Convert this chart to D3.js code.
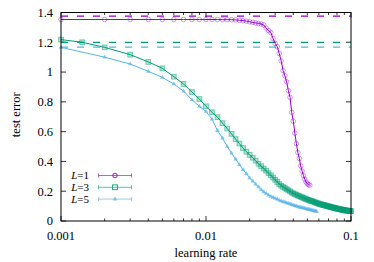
<!DOCTYPE html>
<html>
<head>
<meta charset="utf-8">
<script src="https://cdn.jsdelivr.net/npm/d3@7"></script>
<style>
body { margin: 0; background: #fff; }
text { font-family: "Liberation Serif", "DejaVu Serif", serif; }
</style>
</head>
<body>
<div id="chart-area"></div>
<script>
// learning rates and test errors
var lrL1 = [0.001,0.002,0.003,0.004,0.005,0.006,0.007,0.008,0.009,0.010,0.011,0.012,0.013,0.014,0.015,0.016,0.017,0.018,0.019,0.020,
  0.021,0.022,0.023,0.024,0.025,0.026,0.027,0.028,0.029,0.030,0.031,0.032,0.033,0.034,0.035,0.036,0.037,0.038,0.039,0.040,
  0.041,0.042,0.043,0.044,0.045,0.046,0.047,0.048,0.049,0.050,0.051,0.052];
var errL1 = [1.353,1.353,1.353,1.353,1.353,1.353,1.353,1.353,1.353,1.353,1.353,1.353,1.352,1.352,1.352,1.350,1.348,1.345,1.342,1.338,
  1.334,1.330,1.327,1.323,1.316,1.295,1.278,1.265,1.225,1.192,1.170,1.125,1.075,1.010,0.975,0.935,0.875,0.830,0.730,0.670,
  0.590,0.520,0.460,0.420,0.370,0.335,0.305,0.280,0.262,0.250,0.244,0.240];

var lrL3 = [0.001,0.0014,0.002,0.003,0.004,0.005,0.006,0.007,0.008,0.009,0.010,0.011,0.012,0.013,0.014,0.015,0.016,0.017,0.018,0.019,0.020,
  0.021,0.022,0.023,0.024,0.025,0.026,0.027,0.028,0.029,0.030,0.031,0.032,0.033,0.034,0.035,0.036,0.037,0.038,0.039,0.040,
  0.041,0.042,0.043,0.044,0.045,0.046,0.047,0.048,0.049,0.050,0.051,0.052,0.053,0.054,0.055,0.056,0.057,0.058,0.059,0.060,
  0.061,0.062,0.063,0.064,0.065,0.066,0.067,0.068,0.069,0.070,0.071,0.072,0.073,0.074,0.075,0.076,0.077,0.078,0.079,0.080,
  0.081,0.082,0.083,0.084,0.085,0.086,0.087,0.088,0.089,0.090,0.091,0.092,0.093,0.094,0.095,0.096,0.097,0.098,0.099,0.100];
var errL3 = [1.218,1.200,1.166,1.117,1.068,1.025,0.969,0.920,0.866,0.819,0.770,0.730,0.697,0.657,0.621,0.585,0.550,0.520,0.490,0.465,0.444,
  0.425,0.405,0.384,0.368,0.352,0.338,0.321,0.307,0.292,0.277,0.262,0.248,0.237,0.229,0.221,0.214,0.206,0.199,0.192,0.185,
  0.180,0.176,0.171,0.167,0.163,0.159,0.155,0.151,0.147,0.144,0.141,0.138,0.135,0.133,0.130,0.127,0.124,0.121,0.119,0.116,
  0.114,0.112,0.110,0.108,0.107,0.105,0.103,0.102,0.100,0.098,0.097,0.095,0.093,0.092,0.090,0.089,0.087,0.086,0.085,0.084,
  0.082,0.081,0.080,0.079,0.078,0.077,0.075,0.074,0.073,0.073,0.072,0.071,0.070,0.070,0.069,0.068,0.068,0.067,0.067,0.066];

var lrL5 = [0.001,0.002,0.003,0.004,0.005,0.006,0.007,0.008,0.009,0.010,0.011,0.012,0.013,0.014,0.015,0.016,0.017,0.018,0.019,0.020,
  0.021,0.022,0.023,0.024,0.025,0.026,0.027,0.028,0.029,0.030,0.031,0.032,0.033,0.034,0.035,0.036,0.037,0.038,0.039,0.040,
  0.041,0.042,0.043,0.044,0.045,0.046,0.047,0.048,0.049,0.050,0.051,0.052,0.053,0.054,0.055,0.056,0.057,0.058];
var errL5 = [1.166,1.100,1.054,1.005,0.964,0.920,0.872,0.814,0.770,0.735,0.684,0.607,0.556,0.500,0.455,0.415,0.378,0.345,0.318,0.290,
  0.268,0.248,0.228,0.210,0.195,0.185,0.174,0.165,0.158,0.152,0.146,0.139,0.134,0.130,0.126,0.122,0.118,0.114,0.110,0.106,
  0.103,0.100,0.097,0.093,0.091,0.089,0.087,0.085,0.082,0.080,0.078,0.076,0.074,0.072,0.070,0.068,0.066,0.065];

// dashed reference levels
var refLevels = [1.375, 1.200, 1.168];
var seriesNames = ["1", "3", "5"];
var colors = ["#9400d3", "#009e73", "#56b4e9"];
var yTicks = [0, 0.2, 0.4, 0.6, 0.8, 1, 1.2, 1.4];
var xTicks = [0.001, 0.01, 0.1];

var margin = {top: 12.5, right: 23, bottom: 41, left: 61};
var width = 374 - margin.left - margin.right;
var height = 262 - margin.top - margin.bottom;

var svg = d3.select("#chart-area").append("svg")
  .attr("width", 374)
  .attr("height", 262);
var g = svg.append("g")
  .attr("transform", "translate(" + margin.left + "," + margin.top + ")");

var x = d3.scaleLog().domain([0.001, 0.1]).range([0, width]);
var y = d3.scaleLinear().domain([0, 1.4]).range([height, 0]);

// minor ticks for the log axis
var minor = [];
[0.001, 0.01].forEach(function(d) {
  for (var k = 2; k <= 9; k++) minor.push(d * k);
});

// ticks, drawn inward on all four sides
var ticks = g.append("g").attr("stroke", "#000").attr("stroke-width", 0.8);
yTicks.forEach(function(v) {
  ticks.append("line").attr("x1", 0).attr("x2", 5).attr("y1", y(v)).attr("y2", y(v));
  ticks.append("line").attr("x1", width).attr("x2", width - 5).attr("y1", y(v)).attr("y2", y(v));
});
xTicks.forEach(function(v) {
  ticks.append("line").attr("x1", x(v)).attr("x2", x(v)).attr("y1", height).attr("y2", height - 5);
  ticks.append("line").attr("x1", x(v)).attr("x2", x(v)).attr("y1", 0).attr("y2", 5);
});
minor.forEach(function(v) {
  ticks.append("line").attr("x1", x(v)).attr("x2", x(v)).attr("y1", height).attr("y2", height - 2.5);
  ticks.append("line").attr("x1", x(v)).attr("x2", x(v)).attr("y1", 0).attr("y2", 2.5);
});

var fs = "12.5px";
g.selectAll(".ylab").data(yTicks).enter().append("text")
  .attr("x", -8)
  .attr("y", function(d) { return y(d); })
  .attr("dy", "0.35em")
  .attr("text-anchor", "end")
  .attr("font-size", fs)
  .text(function(d) { return d3.format("~g")(d); });
g.selectAll(".xlab").data(xTicks).enter().append("text")
  .attr("x", function(d) { return x(d); })
  .attr("y", height + 19)
  .attr("text-anchor", "middle")
  .attr("font-size", fs)
  .text(function(d) { return d; });

// axis labels
g.append("text")
  .attr("x", width / 2)
  .attr("y", height + 36)
  .attr("text-anchor", "middle")
  .attr("font-size", fs)
  .text("learning rate");
g.append("text")
  .attr("transform", "rotate(-90)")
  .attr("x", -(height / 2) + 2)
  .attr("y", -41)
  .attr("text-anchor", "middle")
  .attr("font-size", fs)
  .text("test error");

// dashed levels
g.selectAll(".ref").data(refLevels).enter().append("line")
  .attr("x1", 0).attr("x2", width)
  .attr("y1", function(d) { return y(d); })
  .attr("y2", function(d) { return y(d); })
  .attr("stroke", function(d, i) { return colors[i]; })
  .attr("stroke-width", 1.2)
  .attr("stroke-dasharray", "7,9");

var series = [
  {lr: lrL1, err: errL1},
  {lr: lrL3, err: errL3},
  {lr: lrL5, err: errL5}
];

var line = d3.line()
  .x(function(d) { return x(d[0]); })
  .y(function(d) { return y(d[1]); });

function marker(sel, i, cx, cy, legend) {
  if (i == 0) {
    sel.append("circle").attr("cx", cx).attr("cy", cy).attr("r", 2.3)
      .attr("fill", "none").attr("stroke", colors[i]).attr("stroke-width", 0.9)
      .attr("stroke-opacity", legend ? 1 : 0.45);
  } else if (i == 1) {
    sel.append("rect").attr("x", cx - 2.4).attr("y", cy - 2.4).attr("width", 4.8).attr("height", 4.8)
      .attr("fill", legend ? "none" : colors[i]).attr("fill-opacity", 0.3)
      .attr("stroke", colors[i]).attr("stroke-width", 0.9)
      .attr("stroke-opacity", legend ? 1 : 0.5);
  } else {
    sel.append("path")
      .attr("d", d3.symbol().type(d3.symbolTriangle).size(9)())
      .attr("transform", "translate(" + cx + "," + cy + ")")
      .attr("fill", colors[i]).attr("fill-opacity", 0.7);
  }
}

series.forEach(function(s, i) {
  var pts = s.lr.map(function(d, j) { return [d, s.err[j]]; });
  var sg = g.append("g");
  sg.append("path")
    .datum(pts)
    .attr("d", line)
    .attr("fill", "none")
    .attr("stroke", colors[i])
    .attr("stroke-width", 1);
  pts.forEach(function(p) { marker(sg, i, x(p[0]), y(p[1]), false); });
});

// legend
var legend = g.append("g");
seriesNames.forEach(function(n, i) {
  var ly = 175.5 + i * 11.8 - margin.top;
  var t = legend.append("text")
    .attr("x", 89 - margin.left)
    .attr("y", ly)
    .attr("dy", "0.35em")
    .attr("text-anchor", "end")
    .attr("font-size", "11px");
  t.append("tspan").attr("font-style", "italic").text("L");
  t.append("tspan").text("=" + n);
  var x1 = 98.5 - margin.left, x2 = 131.5 - margin.left;
  legend.append("line").attr("x1", x1).attr("x2", x2).attr("y1", ly).attr("y2", ly)
    .attr("stroke", colors[i]).attr("stroke-width", 0.9).attr("stroke-opacity", 0.7);
  [x1, x2].forEach(function(xx) {
    legend.append("line").attr("x1", xx).attr("x2", xx).attr("y1", ly - 2).attr("y2", ly + 2)
      .attr("stroke", colors[i]).attr("stroke-width", 0.9).attr("stroke-opacity", 0.7);
  });
  marker(legend, i, (x1 + x2) / 2, ly, true);
});

// frame
g.append("rect")
  .attr("width", width)
  .attr("height", height)
  .attr("fill", "none")
  .attr("stroke", "#000")
  .attr("stroke-width", 1);
</script>
</body>
</html>
